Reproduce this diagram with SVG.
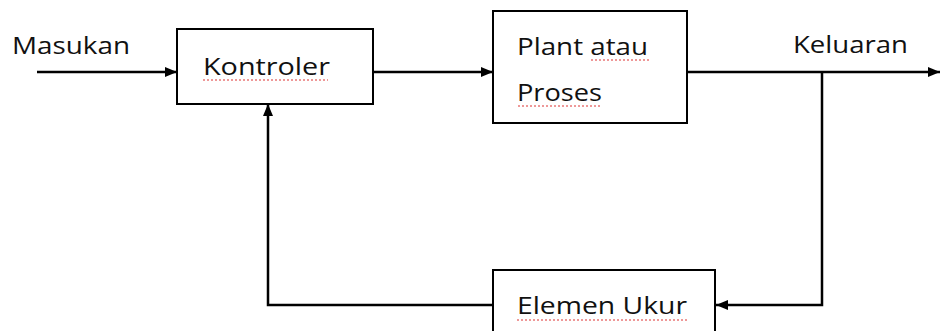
<svg xmlns="http://www.w3.org/2000/svg" width="940" height="331" viewBox="0 0 940 331">
<style>
.box{fill:#fff;stroke:#000;stroke-width:2}
.ln{fill:none;stroke:#000;stroke-width:2.5}
.t{font-family:"Open Sans","Liberation Sans",sans-serif;font-size:24px;fill:#111}
.sq{fill:none;stroke:#d33;stroke-width:1;stroke-dasharray:2 2}
</style>
<defs>
<marker id="ah" viewBox="0 0 12 10" refX="12" refY="5" markerWidth="12" markerHeight="10" markerUnits="userSpaceOnUse" orient="auto">
<path d="M0,0 L12,5 L0,10 Z" fill="#000"/>
</marker>
</defs>
<rect width="940" height="331" fill="#fff"/>
<g id="connectors">
<line class="ln" x1="37" y1="72" x2="177" y2="72" marker-end="url(#ah)"/>
<line class="ln" x1="373" y1="72" x2="493" y2="72" marker-end="url(#ah)"/>
<line class="ln" x1="687" y1="72" x2="940" y2="72" marker-end="url(#ah)"/>
<polyline class="ln" points="822,72 822,305 716,305" marker-end="url(#ah)"/>
<polyline class="ln" points="493,305 268,305 268,104" marker-end="url(#ah)"/>
</g>
<g id="label-masukan"><text class="t" x="12" y="54" textLength="118" lengthAdjust="spacingAndGlyphs">Masukan</text></g>
<g id="label-keluaran"><text class="t" x="793" y="53" textLength="115" lengthAdjust="spacingAndGlyphs">Keluaran</text></g>
<g id="kontroler">
<rect class="box" x="177" y="29" width="196" height="75"/>
<text class="t" x="203" y="75" textLength="127" lengthAdjust="spacingAndGlyphs">Kontroler</text>
<path class="sq" d="M203,80 H328"/>
</g>
<g id="plant">
<rect class="box" x="493" y="11" width="194" height="112"/>
<text class="t" x="517" y="55" textLength="131" lengthAdjust="spacingAndGlyphs">Plant atau</text>
<path class="sq" d="M591,60 H650"/>
<text class="t" x="517" y="101" textLength="85" lengthAdjust="spacingAndGlyphs">Proses</text>
<path class="sq" d="M518,106 H601"/>
</g>
<g id="elemen-ukur">
<rect class="box" x="493" y="270" width="222" height="70"/>
<text class="t" x="517" y="314" textLength="170" lengthAdjust="spacingAndGlyphs">Elemen Ukur</text>
<path class="sq" d="M517,320 H687"/>
</g>
</svg>
